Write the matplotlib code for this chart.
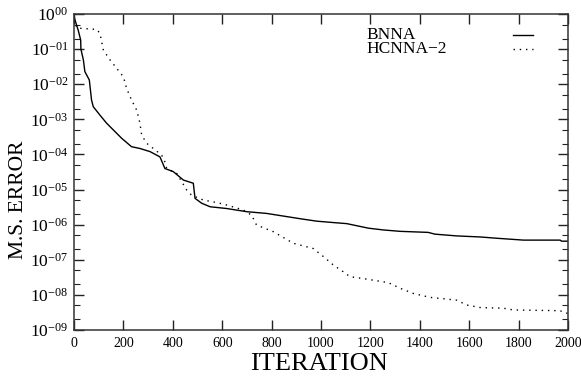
import numpy as np
import matplotlib
matplotlib.use("Agg")
import matplotlib.pyplot as plt
from matplotlib.ticker import FixedLocator, FixedFormatter, LogLocator, NullFormatter

# ----------------------------------------------------------------
# Data (error stored as log10 exponent)
# ----------------------------------------------------------------
BNNA_ITER = [0, 4, 17, 27, 28, 38, 44, 62, 71, 78, 105, 132, 166, 193, 233,
             267, 308, 348, 359, 368, 402, 443, 483, 490, 517, 551, 618, 699,
             780, 915, 982, 1050, 1104, 1192, 1252, 1320, 1434, 1461, 1549,
             1644, 1718, 1820, 1968, 1974, 2000]
BNNA_LOG_MSE = [-0.05, -0.17, -0.46, -0.74, -1.00, -1.31, -1.64, -1.88, -2.45,
                -2.64, -2.88, -3.11, -3.35, -3.54, -3.78, -3.83, -3.92, -4.07,
                -4.25, -4.40, -4.49, -4.73, -4.82, -5.25, -5.39, -5.49, -5.54,
                -5.63, -5.68, -5.83, -5.90, -5.94, -5.97, -6.10, -6.15, -6.19,
                -6.22, -6.27, -6.32, -6.35, -6.39, -6.44, -6.44, -6.47, -6.47]

HCNNA_ITER = [0, 12, 92, 105, 119, 146, 173, 200, 213, 233, 254, 267, 274,
              294, 321, 355, 368, 375, 416, 456, 476, 524, 578, 618, 685, 719,
              739, 807, 888, 969, 1010, 1050, 1090, 1117, 1184, 1272, 1320,
              1374, 1441, 1549, 1591, 1644, 1739, 1780, 1968, 1990, 2000]
HCNNA_LOG_MSE = [-0.15, -0.40, -0.44, -0.55, -1.03, -1.31, -1.55, -1.79, -2.12,
                 -2.45, -2.74, -3.11, -3.45, -3.68, -3.83, -4.02, -4.21, -4.40,
                 -4.54, -5.01, -5.16, -5.30, -5.37, -5.44, -5.58, -5.73, -6.01,
                 -6.20, -6.53, -6.68, -6.91, -7.15, -7.34, -7.48, -7.55, -7.65,
                 -7.81, -7.96, -8.07, -8.15, -8.29, -8.36, -8.38, -8.43, -8.45,
                 -8.52, -8.52]

SERIES_LABELS = ["BNNA", "HCNNA\u22122"]
X_TICKS = [0, 200, 400, 600, 800, 1000, 1200, 1400, 1600, 1800, 2000]
Y_EXPONENTS = [0, -1, -2, -3, -4, -5, -6, -7, -8, -9]
Y_TICK_LABELS = [r"$10^{00}$", r"$10^{-01}$", r"$10^{-02}$", r"$10^{-03}$",
                 r"$10^{-04}$", r"$10^{-05}$", r"$10^{-06}$", r"$10^{-07}$",
                 r"$10^{-08}$", r"$10^{-09}$"]

# ----------------------------------------------------------------
# Style
# ----------------------------------------------------------------
plt.rcParams["font.family"] = ["Liberation Serif", "DejaVu Serif"]
plt.rcParams["mathtext.fontset"] = "custom"
plt.rcParams["mathtext.rm"] = "Liberation Serif"
plt.rcParams["mathtext.it"] = "Liberation Serif:italic"
plt.rcParams["mathtext.default"] = "rm"

fig = plt.figure(figsize=(5.81, 3.76), dpi=100)
ax = fig.add_axes([74 / 581, 1 - 330 / 376, 494 / 581, 316 / 376])

bnna_mse = 10.0 ** np.array(BNNA_LOG_MSE)
hcnna_mse = 10.0 ** np.array(HCNNA_LOG_MSE)

styles = ["-", (0, (1, 3.5))]
ax.plot(BNNA_ITER, bnna_mse, color="black", lw=1.0, linestyle=styles[0])
ax.plot(HCNNA_ITER, hcnna_mse, color="black", lw=1.0, linestyle=styles[1])

ax.set_yscale("log")
ax.set_xlim(0, 2000)
ax.set_ylim(1e-9, 1e0)

ax.xaxis.set_major_locator(FixedLocator(X_TICKS))
ax.yaxis.set_major_locator(FixedLocator([10.0 ** e for e in Y_EXPONENTS]))
ax.yaxis.set_major_formatter(FixedFormatter(Y_TICK_LABELS))
ax.yaxis.set_minor_locator(LogLocator(base=10, subs=[2, 5], numticks=20))
ax.yaxis.set_minor_formatter(NullFormatter())

ax.tick_params(axis="both", which="both", direction="in", top=True, right=True,
               color="#222222")
ax.tick_params(axis="both", which="major", length=7, width=1.0)
ax.tick_params(axis="y", which="minor", length=4, width=0.8)
ax.tick_params(axis="x", which="major", labelsize=10, pad=5)
ax.tick_params(axis="y", which="major", labelsize=12.5, pad=4)

for sp in ax.spines.values():
    sp.set_linewidth(1.1)
    sp.set_color("#333333")

ax.set_xlabel("ITERATION", fontsize=19, va="baseline")
ax.xaxis.set_label_coords(0.496, -0.128)
ax.set_ylabel("M.S. ERROR", fontsize=15.5)
ax.yaxis.set_label_coords(-0.093, 0.411)

# gnuplot-style key: labels left-aligned, line samples on the right
key_y = [0.921, 0.875]
for lab, ls, ky in zip(SERIES_LABELS, styles, key_y):
    ax.text(0.593, ky, lab, transform=ax.transAxes, fontsize=12.5,
            ha="left", va="baseline")
    ax.plot([0.889, 0.929], [ky + 0.013, ky + 0.013], transform=ax.transAxes,
            color="black", lw=1.0, linestyle=ls)

fig.savefig("out.png", dpi=100)
